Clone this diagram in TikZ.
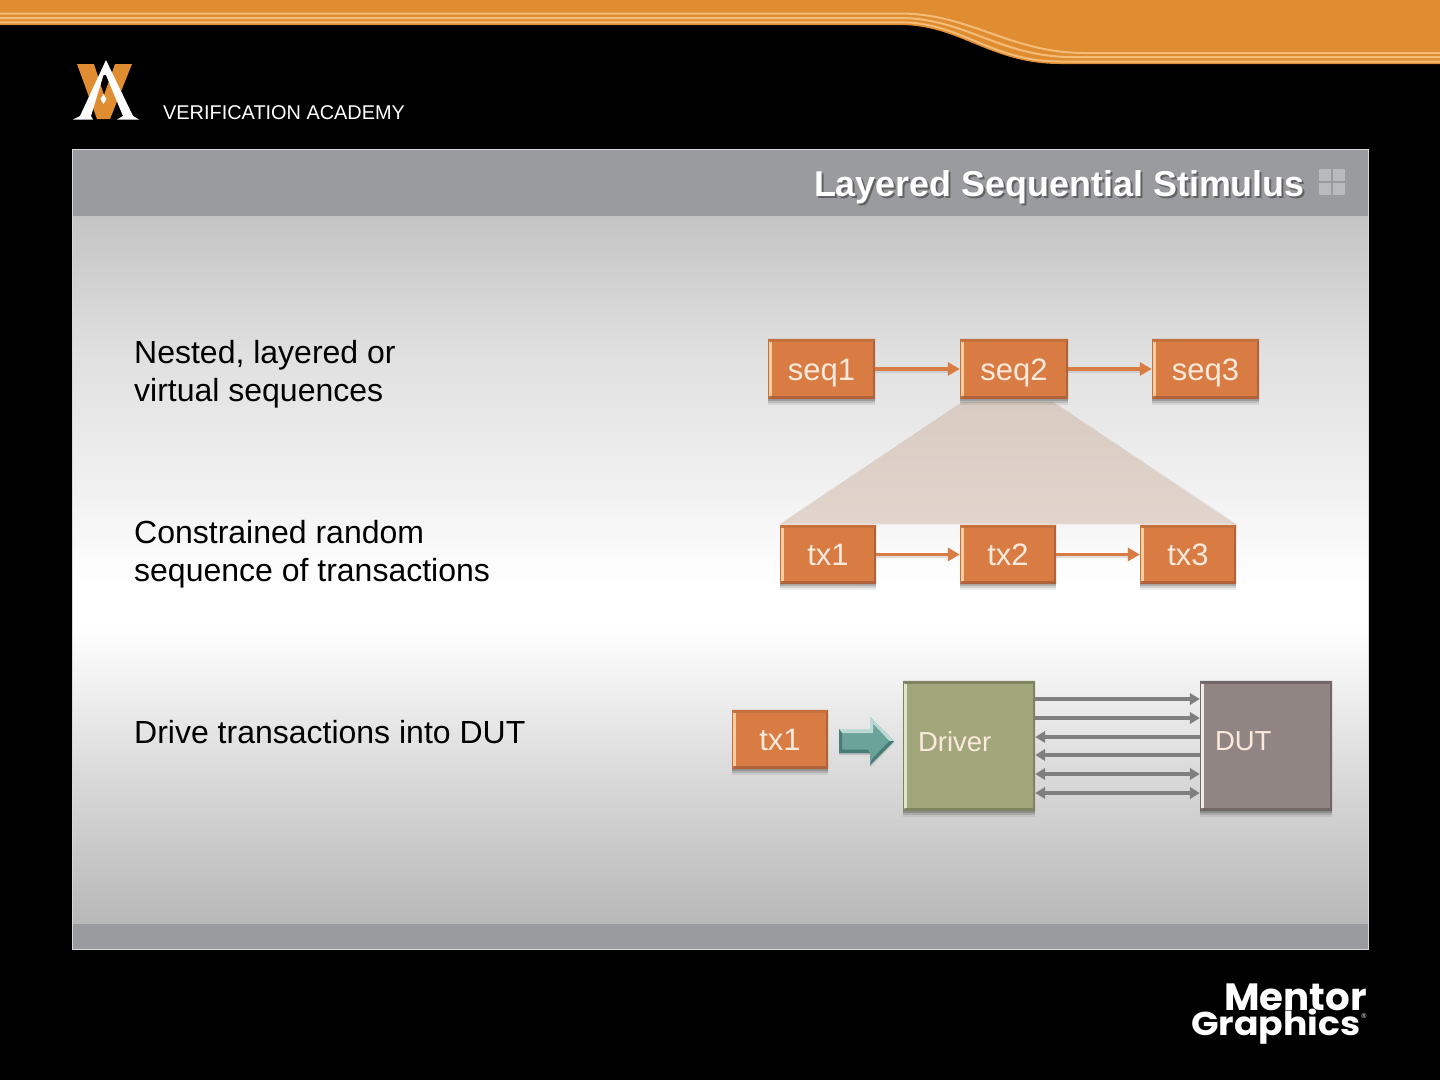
\documentclass[tikz,border=0pt]{standalone}
\usepackage{fontspec}
\setmainfont{Liberation Sans}
\newfontfamily\mgfont{Poppins}
\usetikzlibrary{arrows.meta,shadows}
\definecolor{bandorange}{HTML}{E08C30}
\definecolor{bandline}{HTML}{F3BC78}
\definecolor{panelgrey}{HTML}{9A9B9F}
\definecolor{boxorange}{HTML}{D97C43}
\definecolor{boxlight}{HTML}{F8CBA0}
\definecolor{boxdark}{HTML}{B0623A}
\definecolor{boxtop}{HTML}{C4713E}
\definecolor{boxtext}{HTML}{FBE9DC}
\definecolor{olive}{HTML}{A2A77B}
\definecolor{olivelight}{HTML}{E2E6C8}
\definecolor{olivedark}{HTML}{7F8460}
\definecolor{taupe}{HTML}{918584}
\definecolor{taupelight}{HTML}{F0ECEC}
\definecolor{taupedark}{HTML}{726766}
\definecolor{teal1}{HTML}{6BA39B}
\definecolor{teallight}{HTML}{BCDAD5}
\definecolor{tealdark}{HTML}{467D76}
\definecolor{conngrey}{HTML}{7F7F7F}
\definecolor{fanfill}{HTML}{DFD1C8}
\definecolor{iconfill}{HTML}{B9BABD}
\pgfdeclareverticalshading{bodyshade}{100bp}{
 color(0bp)=(black!28);
 color(25bp)=(black!28);
 color(36bp)=(black!14);
 color(46bp)=(white);
 color(49bp)=(white);
 color(55bp)=(black!5);
 color(65bp)=(black!12);
 color(75bp)=(black!23);
 color(100bp)=(black!23)}
\tikzset{
 softshadow/.style={
  general shadow={fill=black,fill opacity=.07,shadow yshift=-6pt},
  general shadow={fill=black,fill opacity=.12,shadow yshift=-4pt},
  general shadow={fill=black,fill opacity=.16,shadow yshift=-2pt}},
 orangebox/.style={softshadow,fill=boxorange,inner sep=0pt,text=boxtext,font=\fontsize{31}{31}\selectfont,text height=22pt,text depth=0pt},
 blockbox/.style={softshadow,inner sep=0pt,minimum width=132pt,minimum height=130pt},
 blocktext/.style={text=boxtext,font=\fontsize{27.5}{27.5}\selectfont,anchor=west,inner sep=0pt},
 seqlink/.style={draw=boxorange,line width=3.4pt,-{Triangle[length=12pt,width=13pt]}},
 linkback/.style={draw=black!35,opacity=.35,line width=3pt},
 bus/.style={draw=conngrey,line width=3.2pt},
 busr/.style={bus,-{Triangle[length=10pt,width=11.5pt]}},
 busl/.style={bus,{Triangle[length=10pt,width=11.5pt]}-},
 busb/.style={bus,{Triangle[length=10pt,width=11.5pt]}-{Triangle[length=10pt,width=11.5pt]}},
 bodytext/.style={anchor=base west,inner sep=0pt,text=black,font=\fontsize{32}{32}\selectfont},
}
\newcommand{\bevelbox}[4]{%
 \fill[#4] (#1.north west) -- (#1.north east) -- ([shift={(-2pt,-3pt)}]#1.north east) -- ([shift={(3pt,-3pt)}]#1.north west) -- cycle;
 \fill[#3] (#1.south west) -- (#1.south east) -- ([shift={(-2pt,3pt)}]#1.south east) -- ([shift={(3pt,3pt)}]#1.south west) -- cycle;
 \fill[#3] (#1.north east) -- (#1.south east) -- ([shift={(-2pt,3pt)}]#1.south east) -- ([shift={(-2pt,-3pt)}]#1.north east) -- cycle;
 \fill[#4] (#1.north west) -- (#1.south west) -- ([shift={(1pt,0pt)}]#1.south west) -- ([shift={(1pt,0pt)}]#1.north west) -- cycle;
 \fill[#2] ([shift={(1.5pt,-3pt)}]#1.north west) rectangle ([shift={(4pt,3pt)}]#1.south west);
}
\begin{document}
\begin{tikzpicture}[x=1pt,y=-1pt]
\useasboundingbox (0,0) rectangle (1440,1080);
\fill[black] (0,0) rectangle (1440,1080);
% top band
\fill[bandorange] (0,0) -- (1440,0) -- (1440,64) -- (1060,64) .. controls (990,64) and (960,25) .. (900,25) -- (0,25) -- cycle;
\draw[bandline,line width=2pt] (0,13.5) -- (900,13.5) .. controls (970,13.5) and (1010,53) .. (1085,53) -- (1440,53);
\draw[bandline,line width=2pt] (0,18) -- (900,18) .. controls (965,18) and (1000,57) .. (1072,57) -- (1440,57);
\draw[bandline,line width=2pt] (0,22.3) -- (900,22.3) .. controls (962,22.3) and (990,61.5) .. (1060,61.5) -- (1440,61.5);
% logo
\fill[bandorange] (77,64) -- (94,64) -- (104,95) -- (115,64) -- (132,64) -- (110,119) -- (97,119) -- cycle;
\fill[white] (106,60) -- (80,116) -- (73,119.5) -- (93,119.5) -- (91,116) -- (103.5,75) -- (106,75) -- (123,116) -- (117,119.5) -- (139,119.5) -- (133,116) -- cycle;
\fill[white] (103.5,94) -- (106.5,99) -- (103.5,104) -- (100.5,99) -- cycle;
\node[anchor=base west,inner sep=0pt,text=white,font=\fontsize{19.9}{20}\selectfont] (academy) at (163,119) {VERIFICATION ACADEMY};
% panel
\fill[panelgrey] (72,149) rectangle (1368,216);
\shade[shading=bodyshade] (72,216) rectangle (1368,924);
\fill[panelgrey] (72,924) rectangle (1368,949);
\draw[white!85!black,line width=1pt] (72,949.5) -- (72,149) -- (1368,149) -- (1368,949.5) -- cycle;
% title
\node[anchor=base east,inner sep=0pt,text=black!62,font=\bfseries\fontsize{35.9}{36}\selectfont] (titleshadow) at (1307,198) {Layered Sequential Stimulus};
\node[anchor=base east,inner sep=0pt,text=white,font=\bfseries\fontsize{35.9}{36}\selectfont] (title) at (1305,196) {Layered Sequential Stimulus};
\fill[iconfill] (1319,169) rectangle (1331,181);
\fill[iconfill] (1333,169) rectangle (1345,181);
\fill[iconfill] (1319,183) rectangle (1331,195);
\fill[iconfill] (1333,183) rectangle (1345,195);
% left text
\node[bodytext] (t1a) at (134,363) {Nested, layered or};
\node[bodytext] (t1b) at (134,401) {virtual sequences};
\node[bodytext] (t2a) at (134,543) {Constrained random};
\node[bodytext] (t2b) at (134,581) {sequence of transactions};
\node[bodytext] (t3) at (134,743) {Drive transactions into DUT};
% fan
\fill[black,opacity=.07] (1055,403) -- (1238,525) -- (1232,525) -- (1051,403) -- cycle;
\shade[top color=fanfill!97!black,bottom color=fanfill!92!white] (962,402) -- (1053,402) -- (1235,524) -- (780,524) -- cycle;
% sequence row
\node[orangebox,minimum width=107pt,minimum height=60pt] (seq1) at (821.5,369) {seq1};
\node[orangebox,minimum width=108pt,minimum height=60pt] (seq2) at (1014,369) {seq2};
\node[orangebox,minimum width=107pt,minimum height=60pt] (seq3) at (1205.5,369) {seq3};
\bevelbox{seq1}{boxlight}{boxdark}{boxtop}
\bevelbox{seq2}{boxlight}{boxdark}{boxtop}
\bevelbox{seq3}{boxlight}{boxdark}{boxtop}
\draw[linkback] ([yshift=-2pt]seq1.east) -- ([xshift=-8pt,yshift=-2pt]seq2.west);
\draw[linkback] ([yshift=-2pt]seq2.east) -- ([xshift=-8pt,yshift=-2pt]seq3.west);
\draw[seqlink] (seq1.east) -- (seq2.west);
\draw[seqlink] (seq2.east) -- (seq3.west);
% transaction row
\node[orangebox,minimum width=96pt,minimum height=59pt] (tx1) at (828,554.5) {tx1};
\node[orangebox,minimum width=96pt,minimum height=59pt] (tx2) at (1008,554.5) {tx2};
\node[orangebox,minimum width=96pt,minimum height=59pt] (tx3) at (1188,554.5) {tx3};
\bevelbox{tx1}{boxlight}{boxdark}{boxtop}
\bevelbox{tx2}{boxlight}{boxdark}{boxtop}
\bevelbox{tx3}{boxlight}{boxdark}{boxtop}
\draw[linkback] ([yshift=-2pt]tx1.east) -- ([xshift=-8pt,yshift=-2pt]tx2.west);
\draw[linkback] ([yshift=-2pt]tx2.east) -- ([xshift=-8pt,yshift=-2pt]tx3.west);
\draw[seqlink] (tx1.east) -- (tx2.west);
\draw[seqlink] (tx2.east) -- (tx3.west);
% bottom row
\node[orangebox,minimum width=96pt,minimum height=59pt] (txd) at (780,739.5) {tx1};
\bevelbox{txd}{boxlight}{boxdark}{boxtop}
\fill[black,opacity=.14] (839,731) -- (870,731) -- (870,719) -- (894,743) -- (870,767) -- (870,755) -- (839,755) -- cycle;
\fill[teal1] (839,729) -- (870,729) -- (870,717) -- (894,741) -- (870,765) -- (870,753) -- (839,753) -- cycle;
\fill[teallight] (839,729) -- (870,729) -- (873,733) -- (842,733) -- cycle;
\fill[tealdark] (839,753) -- (870,753) -- (868,749.5) -- (842,749.5) -- cycle;
\fill[teallight] (870,717) -- (873,723.5) -- (873,733) -- (870,729) -- cycle;
\fill[teallight] (870,717) -- (894,741) -- (889.5,741) -- (873,723.5) -- cycle;
\fill[tealdark] (870,765) -- (894,741) -- (889.5,741) -- (872,759) -- cycle;
\fill[tealdark] (839,729) -- (842,733) -- (842,749.5) -- (839,753) -- cycle;
\node[blockbox,fill=olive] (driver) at (969,746) {};
\node[blockbox,fill=taupe] (dut) at (1266,746) {};
\bevelbox{driver}{olivelight}{olivedark}{olivedark}
\bevelbox{dut}{taupelight}{taupedark}{taupedark}
\node[blocktext] (driverlabel) at ([shift={(15pt,4.5pt)}]driver.west) {Driver};
\node[blocktext] (dutlabel) at ([shift={(15pt,4.5pt)}]dut.west) {DUT};
\draw[busr] ([yshift=47pt]driver.east) -- ([yshift=47pt]dut.west);
\draw[busr] ([yshift=28pt]driver.east) -- ([yshift=28pt]dut.west);
\draw[busl] ([yshift=9pt]driver.east) -- ([yshift=9pt]dut.west);
\draw[busl] ([yshift=-9pt]driver.east) -- ([yshift=-9pt]dut.west);
\draw[busb] ([yshift=-28pt]driver.east) -- ([yshift=-28pt]dut.west);
\draw[busb] ([yshift=-47pt]driver.east) -- ([yshift=-47pt]dut.west);
% mentor logo
\node[anchor=base east,inner sep=0pt,text=white,font=\mgfont\bfseries\fontsize{38}{38}\selectfont,xscale=1.02] (mentor) at (1367,1010) {Mentor};
\node[anchor=base west,inner sep=0pt,text=white,font=\mgfont\bfseries\fontsize{33}{33}\selectfont,xscale=1.097] (graphics) at (1191,1035) {Graphics};
\node[anchor=center,inner sep=0pt,text=white,font=\fontsize{7}{7}\selectfont] (reg) at (1364,1016) {®};
\end{tikzpicture}
\end{document}
